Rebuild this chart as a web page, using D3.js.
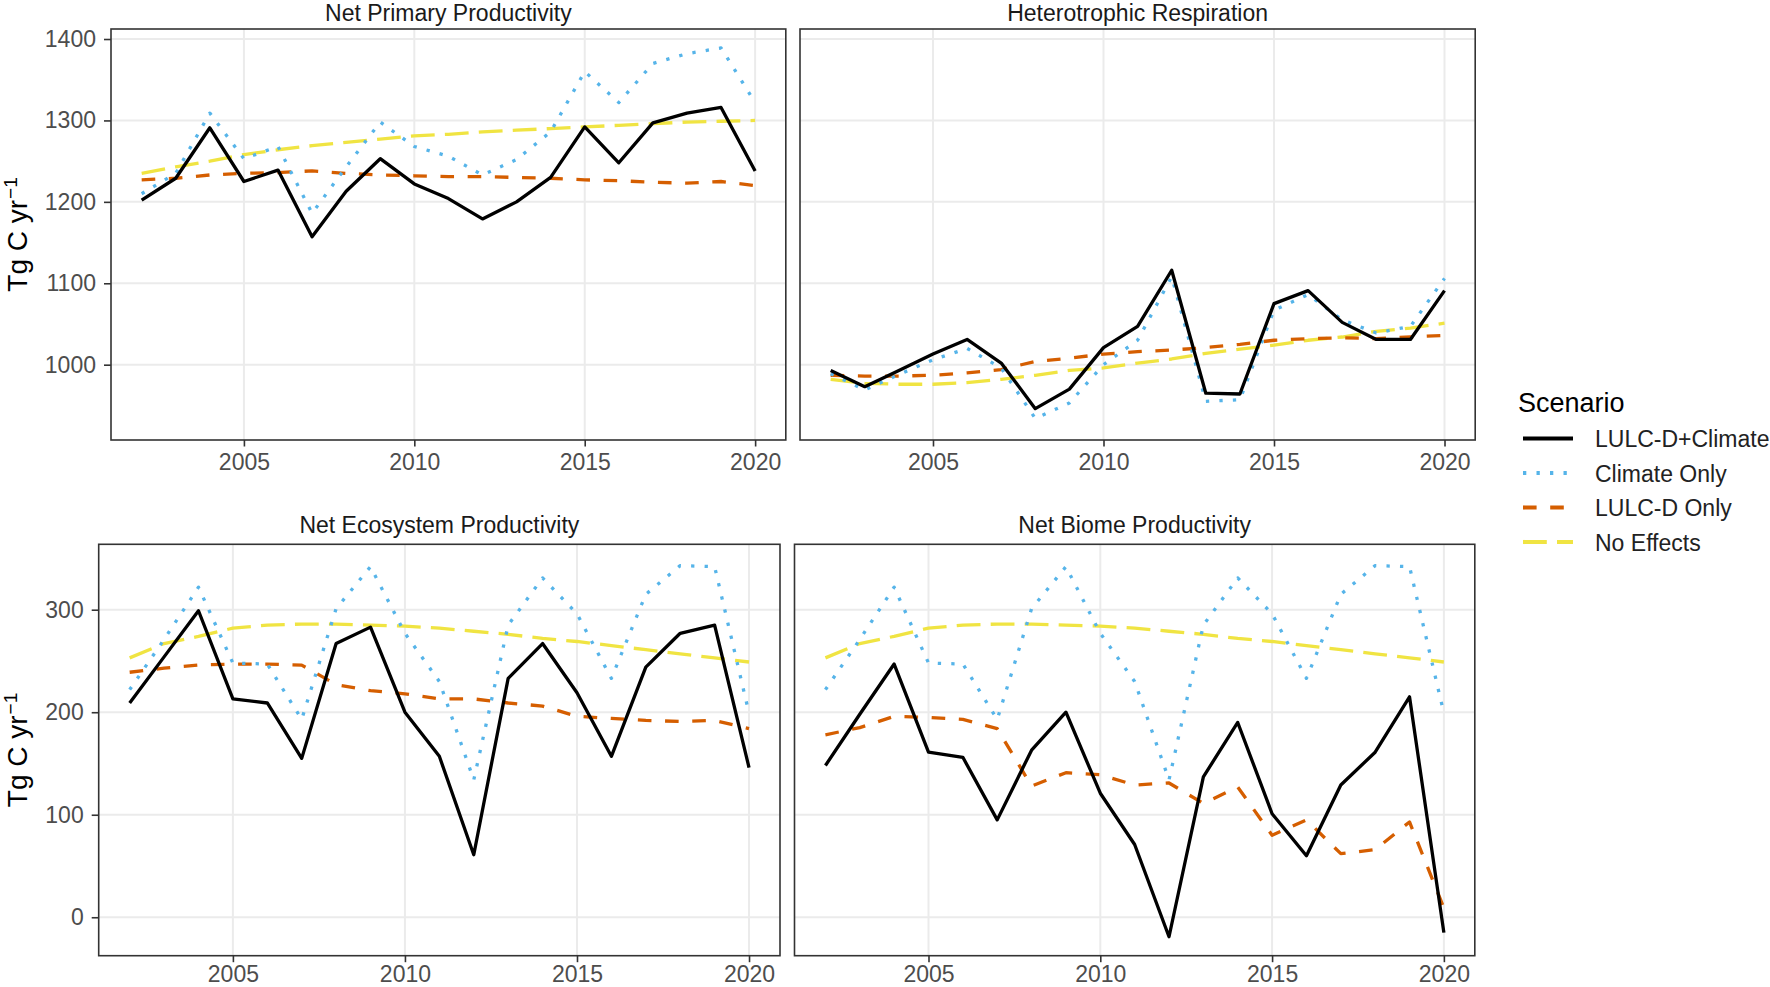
<!DOCTYPE html>
<html>
<head>
<meta charset="utf-8">
<script src="https://cdn.jsdelivr.net/npm/d3@7"></script>
<style>
  html, body { margin: 0; padding: 0; background: #fff; }
  svg { display: block; font-family: "Liberation Sans", Arial, sans-serif; }
</style>
</head>
<body>
<svg id="chart" width="1770" height="987"></svg>
<script>
// ---------------- DATA ----------------
const years = [2002,2003,2004,2005,2006,2007,2008,2009,2010,2011,2012,2013,2014,2015,2016,2017,2018,2019,2020];
const scenarios = ["LULC-D+Climate", "Climate Only", "LULC-D Only", "No Effects"];
const panelTitles = ["Net Primary Productivity", "Heterotrophic Respiration", "Net Ecosystem Productivity", "Net Biome Productivity"];
const xTicks = [2005, 2010, 2015, 2020];
const yTicksTop = [1000, 1100, 1200, 1300, 1400];
const yTicksBottom = [0, 100, 200, 300];
const yLimitsTop = [907.5, 1412.3];
const yLimitsBottom = [-37.5, 363.8];
const xLimits = [2001.1, 2020.9];

// Net Primary Productivity
const nppCombined = [1202,1229,1291,1225,1239,1157,1213,1253,1222,1204,1179,1200,1230,1292,1248,1297,1309,1316,1238];
const nppClimate  = [1210,1235,1309,1253,1268,1186,1243,1298,1268,1256,1233,1252,1286,1360,1322,1370,1382,1389,1322];
const nppLulc     = [1227,1229,1233,1235,1236,1238,1235,1233,1232,1231,1231,1230,1229,1227,1226,1224,1223,1225,1220];
const nppNone     = [1235,1243,1250,1258,1264,1269,1273,1277,1281,1283,1286,1288,1290,1292,1294,1296,1298,1299,1300];

// Heterotrophic Respiration
const hrCombined = [993,973,993,1013,1031,1002,946,970,1021,1047,1116,965,964,1075,1091,1052,1031,1031,1091];
const hrClimate  = [989,969,988,1006,1020,996,934,953,1000,1030,1108,955,957,1067,1086,1055,1039,1047,1106];
const hrLulc     = [987,986,986,987,990,994,1004,1008,1013,1016,1018,1021,1025,1030,1032,1033,1032,1034,1036];
const hrNone     = [982,977,976,976,978,982,987,993,996,1002,1007,1014,1019,1024,1030,1034,1041,1045,1051];

// Net Ecosystem Productivity
const nepCombined = [209,254,299,213,209,155,267,283,200,157,61,233,267,219,157,244,277,285,146];
const nepClimate  = [222,271,322,248,247,193,301,342,277,230,134,285,331,296,233,315,343,342,199];
const nepLulc     = [239,243,246,247,247,246,227,221,218,213,213,209,206,196,194,192,191,192,184];
const nepNone     = [253,267,274,282,285,286,286,285,284,282,279,276,272,269,265,261,257,253,249];

// Net Biome Productivity
const nbpCombined = [148,198,247,161,156,95,163,200,121,71,-19,137,190,101,60,129,161,215,-15];
const nbpClimate  = [222,271,322,248,247,193,301,342,277,230,134,285,331,296,233,315,343,342,199];
const nbpLulc     = [178,185,196,195,193,184,128,141,139,129,131,111,127,80,95,62,66,93,9];
const nbpNone     = [253,267,274,282,285,286,286,285,284,282,279,276,272,269,265,261,257,253,249];

// ---------------- STYLE ----------------
const colors = {"LULC-D+Climate": "#000000", "Climate Only": "#56B4E9", "LULC-D Only": "#D55E00", "No Effects": "#F0E442"};
const lw = 3.3;
const dashes = {"LULC-D+Climate": null, "Climate Only": "3.3,10.2", "LULC-D Only": "13.6,13.6", "No Effects": "23.8,10.2"};

const panels = [
  {title: panelTitles[0], x0: 111, x1: 785.8, y0: 29, y1: 440, lim: yLimitsTop, ticks: yTicksTop, leftAxis: true,
   series: [nppCombined, nppClimate, nppLulc, nppNone], titleY: 21, xPad: 7},
  {title: panelTitles[1], x0: 800, x1: 1475.2, y0: 29, y1: 440, lim: yLimitsTop, ticks: yTicksTop, leftAxis: false,
   series: [hrCombined, hrClimate, hrLulc, hrNone], titleY: 21, xPad: 7},
  {title: panelTitles[2], x0: 98.7, x1: 780, y0: 544.3, y1: 955.7, lim: yLimitsBottom, ticks: yTicksBottom, leftAxis: true,
   series: [nepCombined, nepClimate, nepLulc, nepNone], titleY: 533, xPad: 3},
  {title: panelTitles[3], x0: 794.5, x1: 1474.8, y0: 544.3, y1: 955.7, lim: yLimitsBottom, ticks: yTicksBottom, leftAxis: false,
   series: [nbpCombined, nbpClimate, nbpLulc, nbpNone], titleY: 533, xPad: 3}
];

const svg = d3.select("#chart");

panels.forEach(p => {
  const x = d3.scaleLinear().domain(xLimits).range([p.x0, p.x1]);
  const y = d3.scaleLinear().domain(p.lim).range([p.y1, p.y0]);
  const g = svg.append("g");

  // grid
  g.selectAll("line.gy").data(p.ticks).join("line")
    .attr("x1", p.x0).attr("x2", p.x1)
    .attr("y1", d => y(d)).attr("y2", d => y(d))
    .attr("stroke", "#ebebeb").attr("stroke-width", 2);
  g.selectAll("line.gx").data(xTicks).join("line")
    .attr("x1", d => x(d)).attr("x2", d => x(d))
    .attr("y1", p.y0).attr("y2", p.y1)
    .attr("stroke", "#ebebeb").attr("stroke-width", 2);

  // lines (draw in reverse order so black is on top)
  const line = d3.line().x((d, i) => x(years[i])).y(d => y(d));
  for (let k = scenarios.length - 1; k >= 0; k--) {
    const s = scenarios[k];
    g.append("path")
      .datum(p.series[k])
      .attr("d", line)
      .attr("fill", "none")
      .attr("stroke", colors[s])
      .attr("stroke-width", lw)
      .attr("stroke-linejoin", "round")
      .attr("stroke-linecap", "butt")
      .attr("stroke-dasharray", dashes[s]);
  }

  // border
  g.append("rect")
    .attr("x", p.x0).attr("y", p.y0)
    .attr("width", p.x1 - p.x0).attr("height", p.y1 - p.y0)
    .attr("fill", "none").attr("stroke", "#333333").attr("stroke-width", 1.6);

  // x axis
  const xAxis = d3.axisBottom(x).tickValues(xTicks).tickFormat(d3.format("d")).tickSize(6.5).tickPadding(p.xPad);
  const xa = g.append("g").attr("transform", `translate(0,${p.y1})`).call(xAxis);
  xa.select(".domain").remove();
  xa.selectAll(".tick line").attr("stroke", "#333333").attr("stroke-width", 1.6);
  xa.selectAll(".tick text").attr("fill", "#4d4d4d").attr("font-size", 23)
    .attr("font-family", "Liberation Sans, Arial, sans-serif").attr("dy", "0.71em");

  // y axis
  const yAxis = d3.axisLeft(y).tickValues(p.ticks).tickFormat(d3.format("d")).tickSize(p.leftAxis ? 7 : 0).tickPadding(8);
  const ya = g.append("g").attr("transform", `translate(${p.x0},0)`).call(yAxis);
  ya.select(".domain").remove();
  ya.selectAll(".tick line").attr("stroke", "#333333").attr("stroke-width", 1.6);
  ya.selectAll(".tick text").attr("fill", "#4d4d4d").attr("font-size", 23)
    .attr("font-family", "Liberation Sans, Arial, sans-serif");
  if (!p.leftAxis) ya.selectAll(".tick text").remove();

  // title
  svg.append("text")
    .attr("x", (p.x0 + p.x1) / 2).attr("y", p.titleY)
    .attr("text-anchor", "middle").attr("font-size", 23).attr("fill", "#1a1a1a")
    .text(p.title);

  // y axis title
  if (p.leftAxis) {
    const cy = (p.y0 + p.y1) / 2;
    const t = svg.append("text")
      .attr("transform", `translate(27,${cy}) rotate(-90)`)
      .attr("text-anchor", "middle").attr("font-size", 28).attr("fill", "#000");
    t.append("tspan").text("Tg C yr");
    t.append("tspan").attr("font-size", 19).attr("dy", -10).attr("dx", 1).text("\u22121");
  }
});

// legend
const legend = svg.append("g");
legend.append("text").attr("x", 1518).attr("y", 412).attr("font-size", 27).attr("fill", "#000").text("Scenario");
const rowY = [438.5, 473, 507.5, 542];
scenarios.forEach((s, i) => {
  legend.append("line")
    .attr("x1", 1523).attr("x2", 1573).attr("y1", rowY[i]).attr("y2", rowY[i])
    .attr("stroke", colors[s]).attr("stroke-width", lw + 0.8)
    .attr("stroke-dasharray", dashes[s]);
  legend.append("text").attr("x", 1595).attr("y", rowY[i] + 8.5)
    .attr("font-size", 23).attr("fill", "#222").text(s);
});
</script>
</body>
</html>
